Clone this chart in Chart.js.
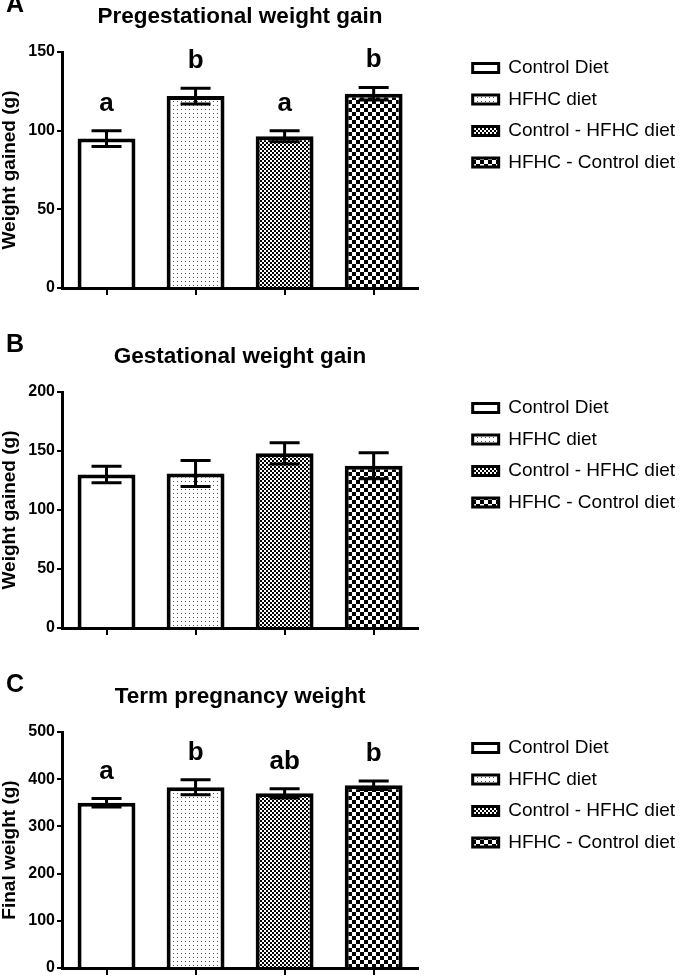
<!DOCTYPE html>
<html>
<head>
<meta charset="utf-8">
<script src="https://cdn.jsdelivr.net/npm/chart.js@4.4.0/dist/chart.umd.min.js"></script>
<style>
  body { margin: 0; background: #fff; width: 685px; height: 977px; overflow: hidden; position: relative; }
  canvas { position: absolute; left: 0; }
</style>
</head>
<body>
<canvas id="panelA" width="685" height="340" style="top:-8px"></canvas>
<canvas id="panelB" width="685" height="340" style="top:332px"></canvas>
<canvas id="panelC" width="685" height="340" style="top:672px"></canvas>
<script>
// groups (same order in every panel)
const groups = ['Control Diet', 'HFHC diet', 'Control - HFHC diet', 'HFHC - Control diet'];

// A: pregestational weight gain (g), mean and error
const pregestMean = [95, 122, 96.5, 123.5];
const pregestErr = [5, 5, 3.5, 4];
const pregestLetters = ['a', 'b', 'a', 'b'];

// B: gestational weight gain (g)
const gestMean = [130, 131, 148, 137.5];
const gestErr = [7, 11, 9, 11];

// C: term pregnancy weight (g)
const termMean = [350, 383, 370, 387];
const termErr = [9, 16, 10, 9];
const termLetters = ['a', 'b', 'ab', 'b'];

const FONT = '"Liberation Sans", Arial, Helvetica, sans-serif';

function makePattern(size, paint) {
  const c = document.createElement('canvas');
  c.width = size;
  c.height = size;
  const g = c.getContext('2d');
  g.fillStyle = '#fff';
  g.fillRect(0, 0, size, size);
  paint(g);
  return g.createPattern(c, 'repeat');
}

const dots = makePattern(4, g => { g.fillStyle = '#555'; g.fillRect(1, 1, 1, 1); });
const fineCheck = makePattern(4, g => { g.fillStyle = '#000'; g.fillRect(0, 0, 2, 2); g.fillRect(2, 2, 2, 2); });
const coarseCheck = makePattern(8, g => { g.fillStyle = '#000'; g.fillRect(0, 0, 4, 4); g.fillRect(4, 4, 4, 4); });
const FILLS = ['#ffffff', dots, fineCheck, coarseCheck];

function createPanel(id, letter, title, yTitle, means, errs, letters, yMax, yStep) {
  // error bars, significance letters and the panel letter
  const annotate = {
    id: 'annotate_' + id,
    afterDatasetsDraw(chart) {
      const ctx = chart.ctx;
      const y = chart.scales.y;
      const meta = chart.getDatasetMeta(0);
      ctx.save();
      ctx.strokeStyle = '#000';
      ctx.lineWidth = 3;
      ctx.fillStyle = '#000';
      meta.data.forEach((bar, i) => {
        const top = y.getPixelForValue(means[i] + errs[i]);
        const bot = y.getPixelForValue(means[i] - errs[i]);
        ctx.beginPath();
        ctx.moveTo(bar.x, top);
        ctx.lineTo(bar.x, bot);
        ctx.moveTo(bar.x - 15, top);
        ctx.lineTo(bar.x + 15, top);
        ctx.moveTo(bar.x - 15, bot);
        ctx.lineTo(bar.x + 15, bot);
        ctx.stroke();
        if (letters) {
          ctx.font = 'bold 26px ' + FONT;
          ctx.textAlign = 'center';
          ctx.textBaseline = 'alphabetic';
          ctx.fillText(letters[i], bar.x, top - 20);
        }
      });
      ctx.font = 'bold 25px ' + FONT;
      ctx.textAlign = 'left';
      ctx.textBaseline = 'alphabetic';
      ctx.fillText(letter, 6, 20);
      ctx.restore();
    }
  };

  return new Chart(document.getElementById(id), {
    type: 'bar',
    data: {
      labels: groups,
      datasets: [{
        data: means,
        backgroundColor: FILLS,
        borderColor: '#000',
        borderWidth: 4,
        borderSkipped: 'start',
        barPercentage: 0.65,
        categoryPercentage: 1
      }]
    },
    options: {
      responsive: false,
      animation: false,
      devicePixelRatio: 1,
      events: [],
      layout: { padding: { right: 0 } },
      plugins: {
        title: {
          display: true,
          text: title,
          fullSize: false,
          color: '#000',
          font: { family: FONT, size: 22.5, weight: 'bold', lineHeight: 1.2 },
          padding: { top: 11, bottom: 22 }
        },
        legend: {
          position: 'right',
          align: 'start',
          maxWidth: 400,
          title: { display: true, text: ' ', font: { size: 10, lineHeight: 1 }, padding: { top: 44, bottom: 0 } },
          labels: {
            color: '#000',
            font: { family: FONT, size: 19 },
            boxWidth: 26,
            boxHeight: 9,
            padding: 12.5,
            generateLabels: () => groups.map((g, i) => ({
              text: g,
              fillStyle: FILLS[i],
              strokeStyle: '#000',
              fontColor: '#000',
              lineWidth: 3,
              hidden: false,
              index: i,
              datasetIndex: 0
            }))
          }
        },
        tooltip: { enabled: false }
      },
      scales: {
        x: {
          grid: { display: true, drawOnChartArea: false, drawTicks: true, tickLength: 7, lineWidth: 2, color: '#000', offset: false },
          border: { display: true, width: 3, color: '#000' },
          ticks: { callback: () => '' },
          afterFit: s => { s.height = 44; }
        },
        y: {
          min: 0,
          max: yMax,
          ticks: { stepSize: yStep, color: '#000', padding: 2, font: { family: FONT, size: 16, weight: 'bold' } },
          grid: { display: true, drawOnChartArea: false, drawTicks: true, tickLength: 5, lineWidth: 2, color: '#000' },
          border: { display: true, width: 3, color: '#000' },
          title: { display: true, text: yTitle, color: '#000', font: { family: FONT, size: 19, weight: 'bold', lineHeight: 1 }, padding: 0 },
          afterFit: s => { s.width = 62; }
        },
        // empty spacer between plot and legend
        gap: {
          type: 'linear',
          position: 'right',
          ticks: { display: false },
          grid: { display: false },
          border: { display: false },
          afterFit: s => { s.width = 42; }
        }
      }
    },
    plugins: [annotate]
  });
}

createPanel('panelA', 'A', 'Pregestational weight gain', 'Weight gained (g)', pregestMean, pregestErr, pregestLetters, 150, 50);
createPanel('panelB', 'B', 'Gestational weight gain', 'Weight gained (g)', gestMean, gestErr, null, 200, 50);
createPanel('panelC', 'C', 'Term pregnancy weight', 'Final weight (g)', termMean, termErr, termLetters, 500, 100);
</script>
</body>
</html>
